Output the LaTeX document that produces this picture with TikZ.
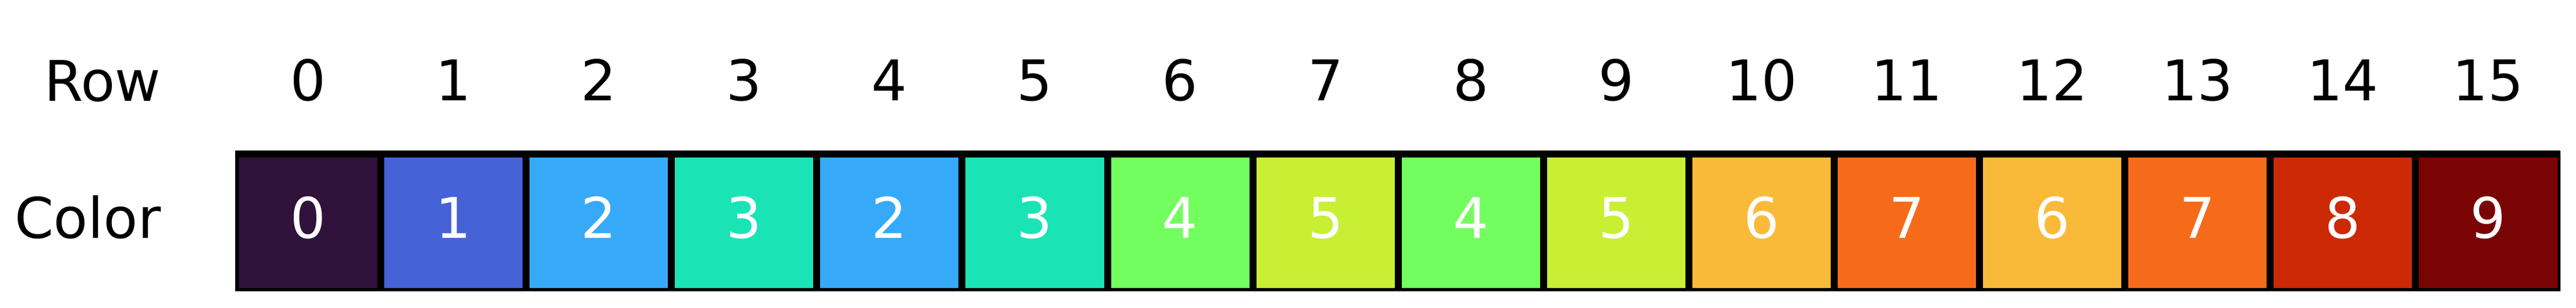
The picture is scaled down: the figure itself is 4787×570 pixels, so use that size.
\documentclass[tikz,border=0pt]{standalone}
\usepackage{fontspec}
\setmainfont{DejaVu Sans}
\usepackage{tikz}

\definecolor{turbo0}{HTML}{30123B}
\definecolor{turbo1}{HTML}{4662D7}
\definecolor{turbo2}{HTML}{36AAF9}
\definecolor{turbo3}{HTML}{1AE4B6}
\definecolor{turbo4}{HTML}{72FE5E}
\definecolor{turbo5}{HTML}{C8EF34}
\definecolor{turbo6}{HTML}{FABA39}
\definecolor{turbo7}{HTML}{F66B19}
\definecolor{turbo8}{HTML}{CB2A04}
\definecolor{turbo9}{HTML}{7A0403}

\tikzset{
  cell/.style={draw=black, line width=3.25pt, minimum width=67.525pt,
    minimum height=63.75pt, inner sep=0pt, text=white,
    text height=19pt, text depth=5pt},
  idx/.style={yshift=-1.5pt, inner sep=0pt, text height=19pt, text depth=0pt},
  head/.style={anchor=base east},
}

\begin{document}
\begin{tikzpicture}[x=0.25pt, y=0.25pt, node distance=67.525pt,
  font=\fontsize{26}{31}\selectfont]
\useasboundingbox (0,0) rectangle (4787,570);
\begin{scope}
\clip (437,31) rectangle (4758,300);
\node [cell, fill=turbo0] (c0) at (572.45,157) {0};
\node [cell, fill=turbo1, right of=c0] (c1) {1};
\node [cell, fill=turbo2, right of=c1] (c2) {2};
\node [cell, fill=turbo3, right of=c2] (c3) {3};
\node [cell, fill=turbo2, right of=c3] (c4) {2};
\node [cell, fill=turbo3, right of=c4] (c5) {3};
\node [cell, fill=turbo4, right of=c5] (c6) {4};
\node [cell, fill=turbo5, right of=c6] (c7) {5};
\node [cell, fill=turbo4, right of=c7] (c8) {4};
\node [cell, fill=turbo5, right of=c8] (c9) {5};
\node [cell, fill=turbo6, right of=c9] (c10) {6};
\node [cell, fill=turbo7, right of=c10] (c11) {7};
\node [cell, fill=turbo6, right of=c11] (c12) {6};
\node [cell, fill=turbo7, right of=c12] (c13) {7};
\node [cell, fill=turbo8, right of=c13] (c14) {8};
\node [cell, fill=turbo9, right of=c14] (c15) {9};
\end{scope}
\node [idx, above of=c0] (r0) {0};
\node [idx, above of=c1] (r1) {1};
\node [idx, above of=c2] (r2) {2};
\node [idx, above of=c3] (r3) {3};
\node [idx, above of=c4] (r4) {4};
\node [idx, above of=c5] (r5) {5};
\node [idx, above of=c6] (r6) {6};
\node [idx, above of=c7] (r7) {7};
\node [idx, above of=c8] (r8) {8};
\node [idx, above of=c9] (r9) {9};
\node [idx, above of=c10] (r10) {10};
\node [idx, above of=c11] (r11) {11};
\node [idx, above of=c12] (r12) {12};
\node [idx, above of=c13] (r13) {13};
\node [idx, above of=c14] (r14) {14};
\node [idx, above of=c15] (r15) {15};
\node [head] (rowhead) at (313,383) {Row};
\node [head] (colorhead) at (313,129) {Color};
\end{tikzpicture}
\end{document}
